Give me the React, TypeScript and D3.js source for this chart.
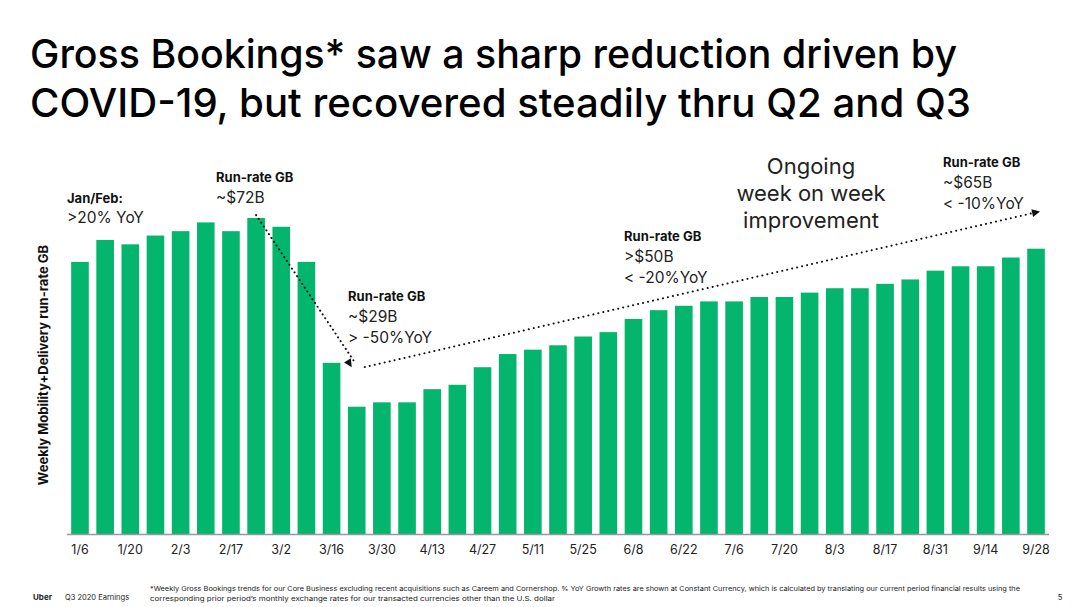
import React from "react";
import * as d3 from "d3";

const weeks = ["1/6","1/13","1/20","1/27","2/3","2/10","2/17","2/24","3/2","3/9","3/16","3/23","3/30","4/6","4/13","4/20","4/27","5/4","5/11","5/18","5/25","6/1","6/8","6/15","6/22","6/29","7/6","7/13","7/20","7/27","8/3","8/10","8/17","8/24","8/31","9/7","9/14","9/21","9/28"];
const runRateGB = [62,67,66,68,69,71,69,72,70,62,39,29,30,30,33,34,38,41,42,43,45,46,49,51,52,53,53,54,54,55,56,56,57,58,60,61,61,63,65];
const tickLabels = weeks.filter((_, i) => i % 2 === 0);

const titleLines = [
  "Gross Bookings* saw a sharp reduction driven by",
  "COVID-19, but recovered steadily thru Q2 and Q3",
];
const footnoteLines = [
  "*Weekly Gross Bookings trends for our Core Business excluding recent acquisitions such as Careem and Cornershop. % YoY Growth rates are shown at Constant Currency, which is calculated by translating our current period financial results using the",
  "corresponding prior period\u2019s monthly exchange rates for our transacted currencies other than the U.S. dollar",
];

const W = 1090, H = 607;
const GREEN = "#04b56e";
const FONT = "Inter, 'Open Sans', sans-serif";

export default function App() {
  const x = d3.scaleBand<string>().domain(weeks).range([67.4, 1048.6]).paddingInner(0.3).paddingOuter(0.15);
  const y = d3.scaleLinear().domain([0, 72]).range([534, 218]);
  const cx = (i: number) => (x(weeks[Math.floor(i)]) as number) + x.bandwidth() / 2 + (i - Math.floor(i)) * x.step();

  const a1 = { x1: cx(7), y1: y(72) - 3, x2: cx(11) - 5, y2: y(38) };
  const a2 = { x1: cx(11) + 2, y1: y(37.8), x2: cx(38) + 4, y2: y(73.5) };

  const arrowHead = (x1: number, y1: number, x2: number, y2: number) => {
    const ang = Math.atan2(y2 - y1, x2 - x1);
    const L = 8, Wd = 4;
    const bx = x2 - L * Math.cos(ang), by = y2 - L * Math.sin(ang);
    const px = -Math.sin(ang) * Wd, py = Math.cos(ang) * Wd;
    return `M${x2},${y2}L${bx + px},${by + py}L${bx - px},${by - py}Z`;
  };

  const block = (x0: number, y0: number, lines: string[]) => (
    <g>
      <text x={x0} y={y0} fontSize={13} fontWeight={700} fill="#111">{lines[0]}</text>
      {lines.slice(1).map((t, i) => (
        <text key={i} x={x0} y={y0 + 21 * (i + 1)} fontSize={15.5} fill="#222">{t}</text>
      ))}
    </g>
  );

  return (
    <svg width={W} height={H} style={{ position: "absolute", left: 0, top: 0, background: "#fff" }} fontFamily={FONT}>
      <rect width={W} height={H} fill="#fff" />
      {titleLines.map((t, i) => (
        <text key={i} x={30} y={68 + i * 49} fontSize={40} fontWeight={500} fill="#000"
          textLength={i === 0 ? 927 : 941} lengthAdjust="spacingAndGlyphs">{t}</text>
      ))}

      {weeks.map((w, i) => (
        <rect key={w} x={x(w)} y={y(runRateGB[i])} width={x.bandwidth()} height={y(0) - y(runRateGB[i])} fill={GREEN} />
      ))}
      <line x1={67} x2={1049} y1={y(0) + 0.5} y2={y(0) + 0.5} stroke="#999" strokeWidth={1.5} />

      {tickLabels.map((t) => (
        <text key={t} x={(x(t) as number) + x.bandwidth() / 2} y={554} fontSize={12.5} textAnchor="middle" fill="#222">{t}</text>
      ))}

      <text transform="translate(48,365) rotate(-90)" fontSize={13} fontWeight={700} textAnchor="middle" fill="#111">
        Weekly Mobility+Delivery run-rate GB
      </text>

      {/* annotations */}
      <text x={67} y={203} fontSize={13} fontWeight={700} fill="#111">Jan/Feb:</text>
      <text x={67} y={223} fontSize={15.5} fill="#222">&gt;20% YoY</text>
      {block(216, 182, ["Run-rate GB", "~$72B"])}
      {block(348, 301, ["Run-rate GB", "~$29B", "> -50%YoY"])}
      {block(624, 241, ["Run-rate GB", ">$50B", "< -20%YoY"])}
      {block(943, 167, ["Run-rate GB", "~$65B", "< -10%YoY"])}
      {["Ongoing", "week on week", "improvement"].map((t, i) => (
        <text key={t} x={811} y={174 + i * 27} fontSize={22} textAnchor="middle" fill="#222">{t}</text>
      ))}

      <line x1={a1.x1} y1={a1.y1} x2={a1.x2 + 3} y2={a1.y2 - 5} stroke="#111" strokeWidth={2} strokeDasharray="0.1 4.5" strokeLinecap="round" />
      <path d={arrowHead(a1.x1, a1.y1, a1.x2, a1.y2)} fill="#111" />
      <line x1={a2.x1 + 6} y1={a2.y1 - 1} x2={a2.x2 - 6} y2={a2.y2 + 1.4} stroke="#111" strokeWidth={2} strokeDasharray="0.1 5" strokeLinecap="round" />
      <path d={arrowHead(a2.x1, a2.y1, a2.x2, a2.y2)} fill="#111" />
      <path d={arrowHead(a2.x2, a2.y2, a2.x1, a2.y1)} fill="#111" opacity={0} />

      {/* footer */}
      <text x={33} y={600} fontSize={8} fontWeight={700} fill="#222">Uber</text>
      <text x={65} y={600} fontSize={7.5} fill="#222">Q3 2020 Earnings</text>
      {footnoteLines.map((t, i) => (
        <text key={i} x={150} y={591 + i * 10} fontSize={6.8} fill="#222"
          textLength={i === 0 ? 870 : 405} lengthAdjust="spacingAndGlyphs">{t}</text>
      ))}
      <text x={1060} y={600} fontSize={7.5} textAnchor="middle" fill="#222">5</text>
    </svg>
  );
}
